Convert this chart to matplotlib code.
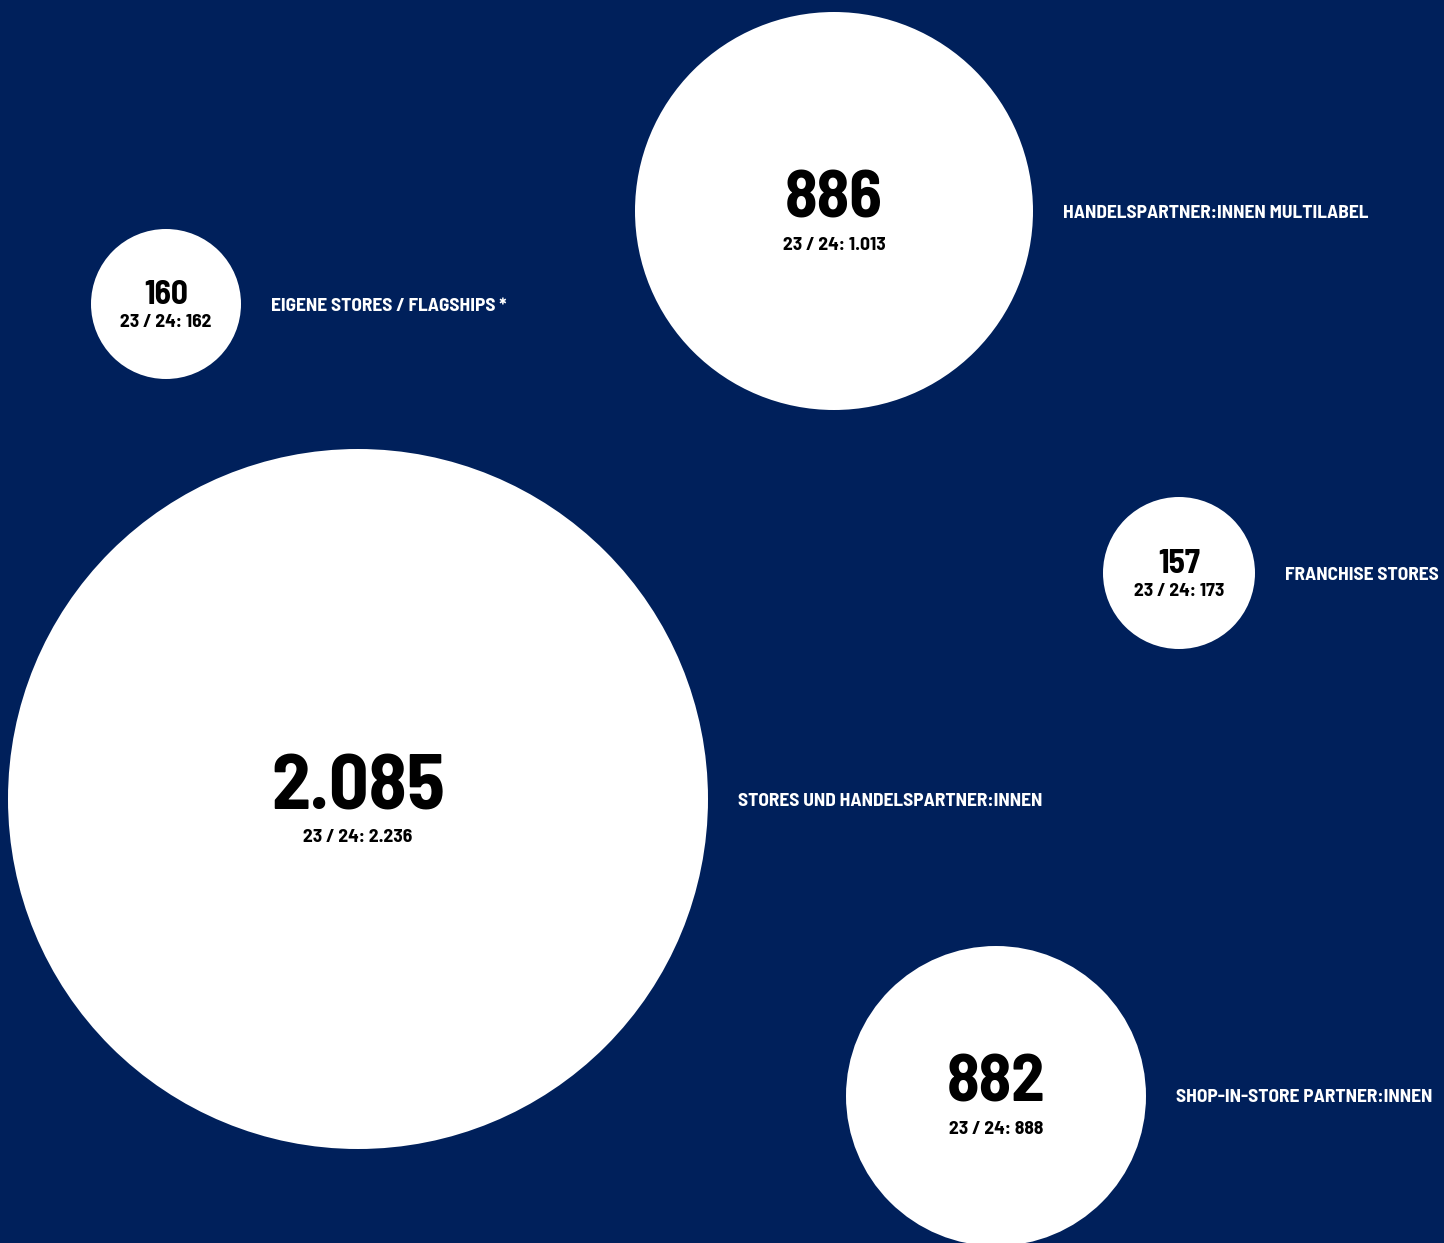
import matplotlib
matplotlib.use("Agg")
from matplotlib import pyplot as plt
from matplotlib.patches import Circle

plt.rcParams['font.family'] = ['Barlow Semi Condensed', 'Roboto Condensed', 'DejaVu Sans']

# Anzahl Verkaufspunkte je Vertriebskanal (aktuell und Vorjahr 23/24)
kanaele = ['EIGENE STORES\u2009/\u2009FLAGSHIPS\u2009*',
           'HANDELSPARTNER:INNEN MULTILABEL',
           'FRANCHISE STORES',
           'STORES UND HANDELSPARTNER:INNEN',
           'SHOP-IN-STORE PARTNER:INNEN']
werte = [160, 886, 157, 2085, 882]
vorjahr = [162, 1013, 173, 2236, 888]

# Layout der Blasen (Pixel): Mittelpunkt, Radius, Schriftgroessen
mitte_x = [166, 834, 1179, 358, 996]
mitte_y = [304, 211, 573, 799, 1096]
radius = [75, 199, 76, 350, 150]
groesse_zahl = [24, 48, 24, 56, 48]
abstand_zahl = [9, 11, 9, 10, 11]
abstand_sub = [18, 34, 18, 38, 34]

BG = '#00205b'
W, H = 1444, 1243


def de_format(v):
    return f"{v:,}".replace(",", ".")


fig = plt.figure(figsize=(W / 100, H / 100), dpi=100, facecolor=BG)
ax = fig.add_axes([0, 0, 1, 1])
ax.set_facecolor(BG)
ax.set_xlim(0, W)
ax.set_ylim(H, 0)
ax.set_aspect('equal')
ax.axis('off')

for i in range(len(werte)):
    cx, cy, r = mitte_x[i], mitte_y[i], radius[i]
    ax.add_patch(Circle((cx, cy), r, facecolor='white', edgecolor='none'))
    ax.text(cx, cy - abstand_zahl[i], de_format(werte[i]), ha='center', va='center',
            fontsize=groesse_zahl[i], fontweight='bold', color='black')
    ax.text(cx, cy + abstand_sub[i], "23\u2009/\u200924: " + de_format(vorjahr[i]),
            ha='center', va='center', fontsize=14, fontweight='bold', color='black')
    ax.text(cx + r + 30, cy + 2, kanaele[i], ha='left', va='center',
            fontsize=14, fontweight='bold', color='white')

fig.savefig('out.png', dpi=100, facecolor=BG)
